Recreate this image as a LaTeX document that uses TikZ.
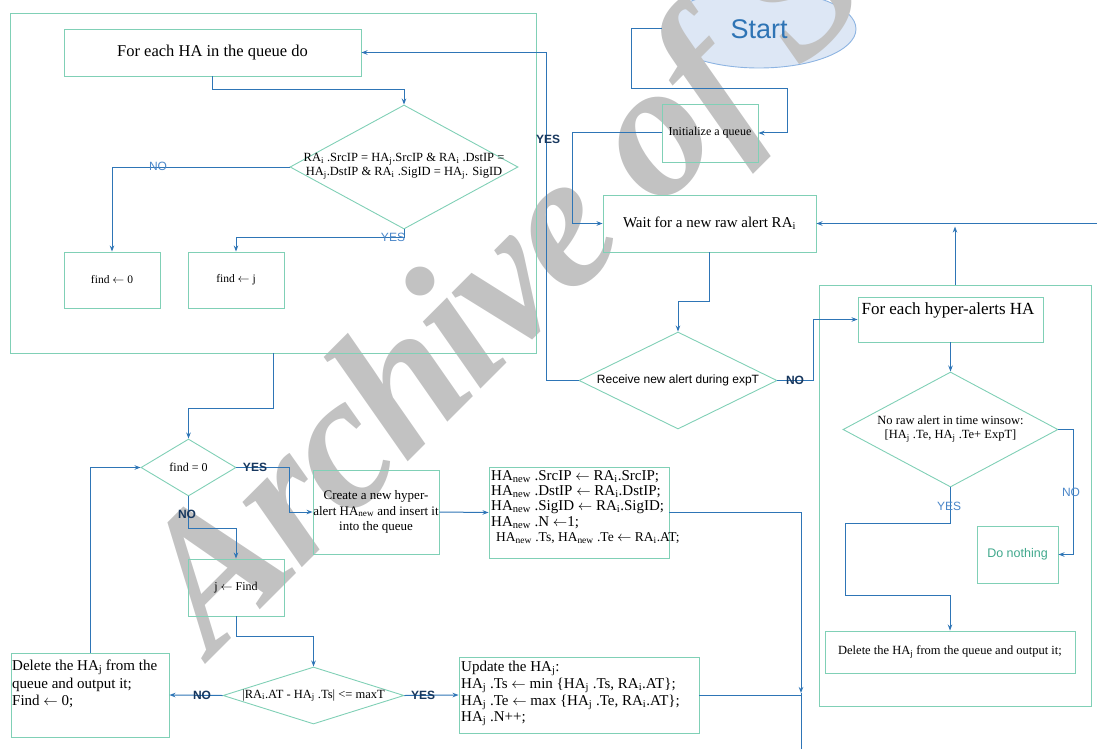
\documentclass[tikz,border=0pt]{standalone}
\usepackage{fontspec}
\setmainfont{Liberation Serif}
\setsansfont{Liberation Sans}
\newfontfamily\wmfont[LetterSpace=-2.5]{Liberation Serif}
\usetikzlibrary{shapes.geometric,arrows.meta}
\definecolor{boxc}{RGB}{128,208,182}
\definecolor{linec}{RGB}{46,117,182}
\definecolor{lblc}{RGB}{74,134,200}
\definecolor{lbld}{RGB}{23,55,94}
\definecolor{wmgray}{RGB}{194,194,194}
\definecolor{startfill}{RGB}{221,231,245}
\definecolor{startdraw}{RGB}{141,180,226}
\definecolor{starttext}{RGB}{46,116,181}
\definecolor{dnc}{RGB}{64,168,140}
\newcommand{\fsz}[2]{\fontsize{#1}{#2}\selectfont}
\newcommand{\la}{$\leftarrow$}
\tikzset{
 box/.style={draw=boxc, line width=0.9pt, inner sep=0pt, rectangle, align=center},
 dia/.style={draw=boxc, line width=0.9pt, diamond, inner sep=0pt},
 conn/.style={draw=linec, line width=1pt, -{Stealth[length=6pt,width=4.5pt]}},
 plain/.style={draw=linec, line width=1pt},
 lbl/.style={font=\sffamily\fsz{12}{12}, text=lblc, inner sep=0pt},
 lbldark/.style={font=\sffamily\bfseries\fsz{12}{12}, text=lbld, inner sep=0pt},
 txt/.style={inner sep=0pt, align=center},
}
\begin{document}
\begin{tikzpicture}[x=1pt,y=-1pt]
\useasboundingbox (0,0) rectangle (1097,749);
\clip (0,0) rectangle (1097,749);
% start ellipse (filled, behind watermark)
\node[ellipse, draw=startdraw, fill=startfill, line width=0.9pt, minimum width=194, minimum height=78, inner sep=0pt] (start) at (759,29) {};
% watermark
\node[font=\wmfont\fsz{192}{192}\bfseries\itshape, text=wmgray, inner sep=0pt, rotate=45, anchor=base west] (wm) at (212,658) {Archive of SID};
\node[font=\sffamily\fsz{27}{27}, text=starttext, inner sep=0pt] (startt) at (start) {Start};

% left part
\node[box, minimum width=525.5, minimum height=340] (lo) at (273.25,183) {};
\node[box, minimum width=297, minimum height=47, font=\fsz{16.5}{18}] (fe) at (212.5,52.5) {For each HA in the queue do};
\node[dia, minimum width=228, minimum height=124] (d1) at (404,167) {};
\node[txt, font=\fsz{12.5}{14}] (d1t) at (404,166) {RA\textsubscript{i} .SrcIP = HA\textsubscript{j}.SrcIP \& RA\textsubscript{i} .DstIP =\\HA\textsubscript{j}.DstIP \& RA\textsubscript{i} .SigID = HA\textsubscript{j}. SigID};
\node[box, minimum width=96, minimum height=56, font=\fsz{11.5}{13}] (f0) at (112,280) {find \la\ 0};
\node[box, minimum width=96, minimum height=56, font=\fsz{11.5}{13}] (fj) at (236,280) {find \la\ j};

\node[dia, minimum width=95, minimum height=57] (d2) at (188.5,467.5) {};
\node[txt, font=\fsz{12}{13}] (d2t) at (d2) {find = 0};
\node[box, minimum width=126, minimum height=84, font=\fsz{13}{15.5}] (cr) at (376,512) {Create a new hyper-\\alert HA\textsubscript{new} and insert it\\into the queue};
\node[box, minimum width=180, minimum height=91] (hn) at (579,512.5) {};
\node[txt, align=left, anchor=north west, font=\fsz{15}{15.3}] (hnt) at (491,470) {HA\textsubscript{new} .SrcIP \la\ RA\textsubscript{i}.SrcIP;\\HA\textsubscript{new} .DstIP \la\ RA\textsubscript{i}.DstIP;\\HA\textsubscript{new} .SigID \la\ RA\textsubscript{i}.SigID;\\HA\textsubscript{new} .N \la 1;\\\hspace*{5pt}{\fsz{13.5}{15.3}HA\textsubscript{new} .Ts, HA\textsubscript{new} .Te \la\ RA\textsubscript{i}.AT;}};
\node[box, minimum width=96, minimum height=57, font=\fsz{12}{13}] (jf) at (236,587.5) {j \la\ Find};
\node[dia, minimum width=181, minimum height=57] (d4) at (313.5,695.5) {};
\node[txt, font=\fsz{12.5}{13}] (d4t) at (d4) {|RA\textsubscript{i}.AT - HA\textsubscript{j} .Ts| <= maxT};
\node[box, minimum width=158, minimum height=84] (dl) at (90,695) {};
\node[txt, align=left, anchor=north west, font=\fsz{15}{17.5}] (dlt) at (12,660) {Delete the HA\textsubscript{j} from the\\queue and output it;\\Find \la\ 0;};
\node[box, minimum width=240, minimum height=76] (up) at (579,695) {};
\node[txt, align=left, anchor=north west, font=\fsz{15}{16.7}] (upt) at (461,661) {Update the HA\textsubscript{j}:\\HA\textsubscript{j} .Ts \la\ min \{HA\textsubscript{j} .Ts, RA\textsubscript{i}.AT\};\\HA\textsubscript{j} .Te \la\ max \{HA\textsubscript{j} .Te, RA\textsubscript{i}.AT\};\\HA\textsubscript{j} .N++;};

% right part
\node[box, minimum width=96, minimum height=58, font=\fsz{12}{13}] (init) at (710,133) {Initialize a queue};
\node[box, minimum width=213, minimum height=57, font=\fsz{15}{16}] (wait) at (709.5,223.5) {Wait for a new raw alert RA\textsubscript{i}};
\node[dia, minimum width=198, minimum height=97] (recv) at (678,380.5) {};
\node[txt, font=\sffamily\fsz{12}{13}] (recvt) at (recv) {Receive new alert during expT};
\node[box, minimum width=272, minimum height=421] (ro) at (955,495.5) {};
\node[box, minimum width=185, minimum height=45] (feh) at (950.5,319.5) {};
\node[txt, font=\fsz{17}{18}] (feht) at (948,310) {For each hyper-alerts HA};
\node[dia, minimum width=215, minimum height=115] (d3) at (950.5,429.5) {};
\node[txt, font=\fsz{12.5}{14.3}] (d3t) at (950.5,429) {No raw alert in time winsow:\\{}[HA\textsubscript{j} .Te, HA\textsubscript{j} .Te+ ExpT]};
\node[box, minimum width=81, minimum height=57, font=\sffamily\fsz{12.5}{13}, text=dnc] (dn) at (1017.5,554.5) {Do nothing};
\node[box, minimum width=250, minimum height=42, font=\fsz{12.5}{13}] (delr) at (950,652) {Delete the HA\textsubscript{j} from the queue and output it;};

% connectors
\draw[conn] (start.west) -- ++(-30,0) |- ++(156,60) |- (init.east);
\draw[conn] (init.west) -- ++(-89,0) |- (wait.west);
\draw[conn] (wait.south) -- ++(0,49) -| (recv.north);
\draw[conn] (recv.west) -- ++(-32,0) |- (fe.east);
\draw[conn] (recv.east) -- ++(36,0) |- (feh.west);
\draw[conn] (feh.south) -- (d3.north);
\draw[conn] (d3.east) -- ++(15,0) |- (dn.east);
\draw[conn] (d3.south) -- ++(0,36) -- ++(-105,0) -- ++(0,72) -| (delr.north);
\coordinate (rin) at (1097,223.5);
\draw[conn] (rin) -- (wait.east);
\draw[conn] (ro.north) -- ++(0,-58);
\draw[conn] (fe.south) -- ++(0,13) -| (d1.north);
\draw[conn] (d1.west) -| (f0.north);
\draw[conn] (d1.south) -- ++(0,8) -| (fj.north);
\draw[conn] (lo.south) -- ++(0,55) -| (d2.north);
\draw[conn] (d2.east) -- ++(53,0) |- (cr.west);
\draw[conn] (d2.south) -- ++(0,32) -| (jf.north);
\draw[conn] (cr.east) -- (hn.west);
\coordinate (jn) at (801,693);
\coordinate (bot) at (801,749);
\draw[conn] (hn.east) -| (jn);
\draw[plain] (up.east) -- (up.east -| jn);
\draw[plain] (jn) -- (bot);
\draw[conn] (jf.south) -- ++(0,20) -| (d4.north);
\draw[conn] (d4.west) -- (dl.east);
\draw[conn] (d4.east) -- (up.west);
\draw[conn] (dl.north) |- (d2.west);

% labels
\node[lbl] (l1) at (158,166) {NO};
\node[lbl] (l2) at (393,237) {YES};
\node[lbl] (l3) at (1071,492) {NO};
\node[lbl] (l4) at (949,506) {YES};
\node[lbldark] (l5) at (548,139) {YES};
\node[lbldark] (l6) at (795,380) {NO};
\node[lbldark] (l7) at (255,467) {YES};
\node[lbldark] (l8) at (187,514) {NO};
\node[lbldark] (l9) at (202,695) {NO};
\node[lbldark] (l10) at (423,695) {YES};
\end{tikzpicture}
\end{document}
